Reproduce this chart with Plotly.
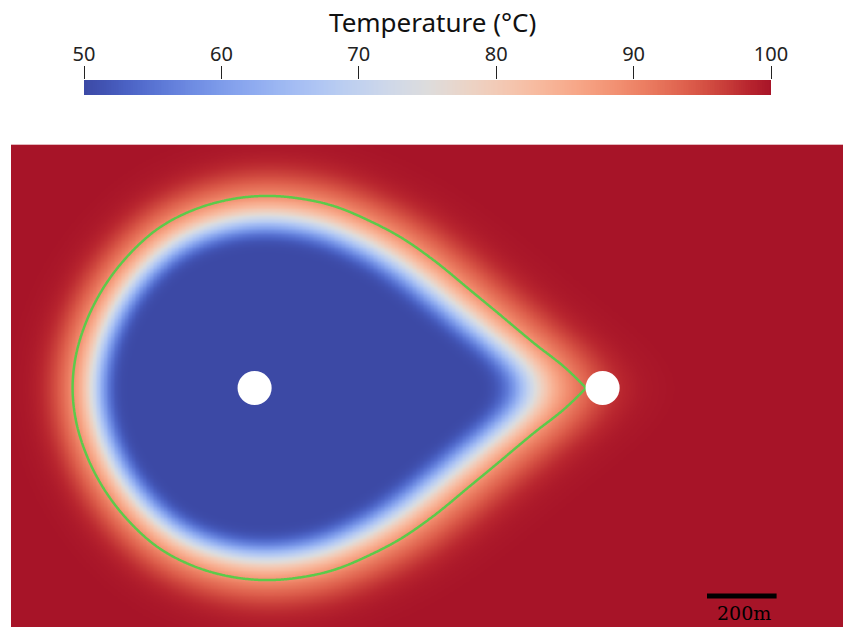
import numpy as np
import plotly.graph_objects as go

# Well positions (m) and radius
injector_xy = (0.0, 0.0)
producer_xy = (1000.0, 0.0)
well_radius_m = 49.0

# Cold-front radius around the injector (m) versus polar angle (deg), upper half; symmetric below
front_angle_deg = [0.0, 3.3, 9.2, 16.5, 25.2, 35.6, 46.0, 56.1, 66.7, 76.4, 84.9,
                   98.2, 108.9, 120.3, 134.1, 147.0, 158.7, 170.2, 180.0]
front_radius_m = [952, 901, 812, 737, 676, 632, 603, 582, 570, 560, 554,
                  546, 541, 536, 526, 521, 520, 522, 523]

# Temperature profile across the front: r / R_front -> temperature (degC)
front_ratio = [0.0, 0.74, 0.78, 0.82, 0.85, 0.885, 0.92, 0.96, 1.00, 1.05, 1.10, 1.16, 1.24, 1.35]
front_temp = [50, 50, 52, 57, 64, 72, 79, 85, 89, 92.5, 95.5, 98, 99.5, 100]

# Smoothing of the isotherms: angular (deg) and spatial (m)
isotherm_sigma_deg = 4.5
diffusion_sigma_m = 14.0

# Colour bar
t_min, t_max = 50, 100
tick_vals = [50, 60, 70, 80, 90, 100]
tick_text = ["50", "60", "70", "80", "90", "100"]
bar_title = "Temperature (°C)"

# Scale bar
scale_bar_m = 200
scale_bar_label = "200m"

cool_warm = [
    [0.0, "rgb(60,73,165)"], [0.03125, "rgb(66,84,180)"], [0.0625, "rgb(75,98,196)"],
    [0.09375, "rgb(86,112,208)"], [0.125, "rgb(98,126,218)"], [0.15625, "rgb(110,139,226)"],
    [0.1875, "rgb(121,151,232)"], [0.21875, "rgb(133,162,237)"], [0.25, "rgb(144,172,240)"],
    [0.28125, "rgb(155,182,242)"], [0.3125, "rgb(166,190,243)"], [0.34375, "rgb(176,198,243)"],
    [0.375, "rgb(186,205,241)"], [0.40625, "rgb(195,210,238)"], [0.4375, "rgb(205,215,234)"],
    [0.46875, "rgb(213,218,228)"], [0.5, "rgb(221,220,220)"], [0.53125, "rgb(229,216,209)"],
    [0.5625, "rgb(236,211,197)"], [0.59375, "rgb(241,204,185)"], [0.625, "rgb(245,196,173)"],
    [0.65625, "rgb(247,187,160)"], [0.6875, "rgb(247,177,148)"], [0.71875, "rgb(247,166,135)"],
    [0.75, "rgb(244,154,123)"], [0.78125, "rgb(241,141,111)"], [0.8125, "rgb(236,127,99)"],
    [0.84375, "rgb(229,112,88)"], [0.875, "rgb(222,96,77)"], [0.90625, "rgb(211,78,66)"],
    [0.9375, "rgb(198,58,56)"], [0.96875, "rgb(183,36,46)"], [1.0, "rgb(167,20,40)"],
]


def hermite_radius(theta_deg):
    """Smooth radius R(theta) through the front samples, sharp at the cusp (theta=0)."""
    th = np.asarray(front_angle_deg, float)
    rr = np.asarray(front_radius_m, float)
    n = len(th)
    m = np.zeros(n)
    m[0] = (rr[1] - rr[0]) / (th[1] - th[0])
    m[-1] = 0.0
    for i in range(1, n - 1):
        m[i] = (rr[i + 1] - rr[i - 1]) / (th[i + 1] - th[i - 1])
    t = np.clip(np.abs(theta_deg), 0, 180)
    idx = np.clip(np.searchsorted(th, t, side="right") - 1, 0, n - 2)
    h = th[idx + 1] - th[idx]
    u = (t - th[idx]) / h
    h00 = 2 * u**3 - 3 * u**2 + 1
    h10 = u**3 - 2 * u**2 + u
    h01 = -2 * u**3 + 3 * u**2
    h11 = u**3 - u**2
    return h00 * rr[idx] + h10 * h * m[idx] + h01 * rr[idx + 1] + h11 * h * m[idx + 1]


def gaussian_kernel(sigma_cells):
    half = int(np.ceil(3 * sigma_cells))
    k = np.exp(-0.5 * (np.arange(-half, half + 1) / sigma_cells) ** 2)
    return k / k.sum(), half


def gaussian_smooth(field, sigma_cells):
    """Separable Gaussian smoothing with edge padding."""
    k, half = gaussian_kernel(sigma_cells)
    out = np.pad(field, ((0, 0), (half, half)), mode="edge")
    out = np.apply_along_axis(lambda v: np.convolve(v, k, mode="valid"), 1, out)
    out = np.pad(out, ((half, half), (0, 0)), mode="edge")
    out = np.apply_along_axis(lambda v: np.convolve(v, k, mode="valid"), 0, out)
    return out


# Isotherm radius: the front radius smoothed around the circle (rounds the cusp)
d_ang = 0.5
ang = np.arange(-180.0, 180.0, d_ang)
k_ang, h_ang = gaussian_kernel(isotherm_sigma_deg / d_ang)
r_ang = hermite_radius(ang)
r_iso = np.convolve(np.concatenate([r_ang[-h_ang:], r_ang, r_ang[:h_ang]]), k_ang, mode="valid")
ang_c = np.append(ang, 180.0)
r_iso_c = np.append(r_iso, r_iso[0])

# Temperature field on a regular grid
step = 4.0
gx = np.arange(-700, 1701, step)
gy = np.arange(-700, 701, step)
X, Y = np.meshgrid(gx, gy)
dx = X - injector_xy[0]
dy = Y - injector_xy[1]
r = np.hypot(dx, dy)
theta = np.degrees(np.arctan2(dy, dx))
T = np.interp(r / np.interp(theta, ang_c, r_iso_c), front_ratio, front_temp)
T = np.round(gaussian_smooth(T, diffusion_sigma_m / step), 2)

# Front line field: r / R_front = 1 on the front
front_field = np.round(r / hermite_radius(theta), 4)

# Pixel layout
W, H = 843, 627
px_per_m = 0.348
left_px, top_px = 11.0, 144.4
x0 = -700.0
x1 = x0 + (W - left_px) / px_per_m
y1 = 700.0
y0 = y1 - (H - top_px) / px_per_m

fig = go.Figure()
fig.add_trace(go.Heatmap(
    x=gx, y=gy, z=T, colorscale=cool_warm, zmin=t_min, zmax=t_max,
    zsmooth="best", showscale=False, hoverinfo="skip",
))
fig.add_trace(go.Contour(
    x=gx, y=gy, z=front_field, showscale=False, hoverinfo="skip",
    contours=dict(start=1.0, end=1.0, size=1, coloring="none"),
    line=dict(color="#5cca4a", width=2.5, smoothing=1.0),
))

# Colour bar drawn as its own strip
bar_x = np.linspace(t_min, t_max, 400)
fig.add_trace(go.Heatmap(
    x=bar_x, y=[0], z=[bar_x], colorscale=cool_warm, zmin=t_min, zmax=t_max,
    showscale=False, hoverinfo="skip", xaxis="x2", yaxis="y2",
))

# Wells
for cx, cy in (injector_xy, producer_xy):
    fig.add_shape(type="circle", xref="x", yref="y",
                  x0=cx - well_radius_m, x1=cx + well_radius_m,
                  y0=cy - well_radius_m, y1=cy + well_radius_m,
                  fillcolor="white", line=dict(width=0))

# Scale bar
sb_x0, sb_y = 1300.0, -598.0
fig.add_shape(type="line", xref="x", yref="y", x0=sb_x0, x1=sb_x0 + scale_bar_m,
              y0=sb_y, y1=sb_y, line=dict(color="black", width=5))
fig.add_annotation(x=sb_x0 + scale_bar_m / 2 + 6, y=sb_y - 12, xref="x", yref="y",
                   text=scale_bar_label, showarrow=False, yanchor="top",
                   font=dict(family="DejaVu Serif", size=19, color="black"))

fig.add_annotation(x=432 / W, y=1 - 22 / H, xref="paper", yref="paper",
                   text=bar_title, showarrow=False, xanchor="center", yanchor="middle",
                   font=dict(family="Noto Sans", size=26, color="#111"))

fig.update_layout(
    width=W, height=H, autosize=False,
    margin=dict(l=0, r=0, t=0, b=0, pad=0, autoexpand=False),
    paper_bgcolor="white", plot_bgcolor="white", showlegend=False,
    xaxis=dict(domain=[left_px / W, 1], range=[x0, x1], visible=False, automargin=False),
    yaxis=dict(domain=[0, (H - top_px) / H], range=[y0, y1], visible=False, automargin=False),
    xaxis2=dict(domain=[84 / W, 771 / W], range=[t_min, t_max], anchor="y2", side="top",
                tickvals=tick_vals, ticktext=tick_text, ticks="outside", ticklen=13,
                tickwidth=1, tickcolor="#222", showgrid=False, zeroline=False,
                showline=False, automargin=False, ticklabelstandoff=-3,
                tickfont=dict(family="Noto Sans", size=20, color="#222")),
    yaxis2=dict(domain=[(H - 95) / H, (H - 80) / H], anchor="x2", visible=False,
                automargin=False),
)

fig.write_html("out.html")
